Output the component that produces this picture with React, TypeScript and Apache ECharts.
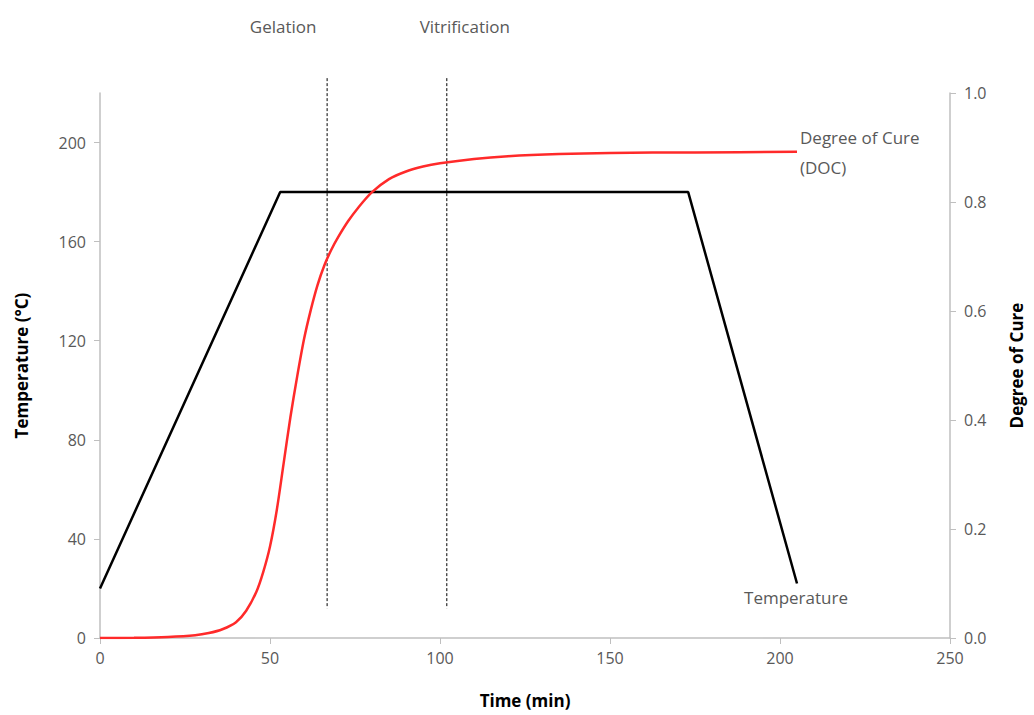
import React, { useEffect, useRef } from "react";
import * as echarts from "echarts";

const tempTime = [0, 53, 173, 205];
const tempValues = [20, 180, 180, 22];

const docTime = [0, 10, 20, 28, 32, 36, 40, 43, 46, 48, 50, 52, 54, 56, 58, 60, 62, 64, 66, 68, 70, 73, 76, 80, 85, 90, 95, 100, 110, 120, 135, 150, 175, 205];
const docValues = [0, 0.0005, 0.002, 0.005, 0.009, 0.016, 0.029, 0.05, 0.085, 0.121, 0.168, 0.235, 0.32, 0.405, 0.48, 0.548, 0.602, 0.648, 0.684, 0.712, 0.735, 0.765, 0.79, 0.818, 0.842, 0.856, 0.865, 0.871, 0.879, 0.884, 0.888, 0.89, 0.891, 0.892];

const markerTimes = [66.8, 102];
const markerNames = ["Gelation", "Vitrification"];
const markerLabelOffsets = [-44, 18];

const leftTicks = [0, 40, 80, 120, 160, 200];

const FONT = "'Open Sans', 'Liberation Sans', sans-serif";
const GRAY = "#595959";
const AXIS = "#bfbfbf";

export default function App() {
  const ref = useRef<HTMLDivElement>(null);
  useEffect(() => {
    document.body.style.margin = "0";
    document.body.style.overflow = "hidden";
    const chart = echarts.init(ref.current!, null, { renderer: "svg" });
    chart.setOption({
      animation: false,
      backgroundColor: "#ffffff",
      textStyle: { fontFamily: FONT },
      grid: { left: 100, right: 84, top: 93, bottom: 77, containLabel: false, outerBoundsMode: "none" },
      xAxis: {
        type: "value",
        min: 0,
        max: 250,
        interval: 50,
        name: "Time (min)",
        nameLocation: "middle",
        nameGap: 54,
        nameTextStyle: { fontFamily: FONT, fontSize: 17, fontWeight: "bold", color: "#000" },
        axisLine: { show: true, lineStyle: { color: AXIS, width: 1.5 } },
        axisTick: { show: true, inside: false, length: 6, lineStyle: { color: AXIS } },
        axisLabel: { fontFamily: FONT, fontSize: 16, color: GRAY, margin: 12 },
        splitLine: { show: false },
      },
      yAxis: [
        {
          type: "value",
          min: 0,
          max: 220,
          interval: 40,
          name: "Temperature (°C)",
          nameLocation: "middle",
          nameGap: 70,
          nameTextStyle: { fontFamily: FONT, fontSize: 17, fontWeight: "bold", color: "#000" },
          axisLine: { show: true, lineStyle: { color: AXIS, width: 1.5 } },
          axisTick: { show: true, length: 6, lineStyle: { color: AXIS }, customValues: leftTicks },
          axisLabel: { fontFamily: FONT, fontSize: 16, color: GRAY, margin: 14, customValues: leftTicks },
          splitLine: { show: false },
        },
        {
          type: "value",
          min: 0,
          max: 1,
          interval: 0.2,
          position: "right",
          name: "Degree of Cure",
          nameLocation: "middle",
          nameGap: 58,
          nameTextStyle: { fontFamily: FONT, fontSize: 17, fontWeight: "bold", color: "#000" },
          axisLine: { show: true, lineStyle: { color: AXIS, width: 1.5 } },
          axisTick: { show: true, length: 6, lineStyle: { color: AXIS } },
          axisLabel: { fontFamily: FONT, fontSize: 16, color: GRAY, margin: 14, formatter: (v: number) => v.toFixed(1) },
          splitLine: { show: false },
        },
      ],
      series: [
        {
          type: "line",
          name: "Temperature",
          yAxisIndex: 0,
          data: tempTime.map((t, i) => [t, tempValues[i]]),
          symbol: "none",
          lineStyle: { color: "#000000", width: 2.5 },
          clip: false,
          endLabel: {
            show: true,
            formatter: "Temperature",
            fontFamily: FONT,
            fontSize: 17,
            color: GRAY,
            align: "center",
            verticalAlign: "top",
            offset: [-9, 5],
          },
        },
        {
          type: "line",
          name: "DOC",
          yAxisIndex: 1,
          data: docTime.map((t, i) => [t, docValues[i]]),
          symbol: "none",
          smooth: 0.3,
          lineStyle: { color: "#ff2a2a", width: 2.5 },
          endLabel: {
            show: true,
            formatter: "Degree of Cure\n(DOC)",
            fontFamily: FONT,
            fontSize: 17,
            lineHeight: 30,
            color: GRAY,
            align: "left",
            verticalAlign: "middle",
            offset: [-5, 1],
          },
        },
        {
          type: "custom",
          yAxisIndex: 0,
          clip: false,
          silent: true,
          data: markerTimes.map((t, i) => [t, i]),
          renderItem: (params: any, api: any) => {
            const x = api.value(0);
            const idx = api.value(1);
            const top = api.coord([x, 226]);
            const bot = api.coord([x, 12]);
            return {
              type: "group",
              children: [
                {
                  type: "line",
                  shape: { x1: top[0], y1: top[1], x2: bot[0], y2: bot[1] },
                  style: { stroke: "#000", lineWidth: 1, lineDash: [3, 2] },
                },
                {
                  type: "text",
                  x: top[0] + markerLabelOffsets[idx],
                  y: top[1] - 52,
                  style: {
                    text: markerNames[idx],
                    fontFamily: FONT,
                    fontSize: 17,
                    fill: GRAY,
                    align: "center",
                    verticalAlign: "middle",
                  },
                },
              ],
            };
          },
        },
      ],
    });
    return () => chart.dispose();
  }, []);
  return <div ref={ref} style={{ width: 1034, height: 715, position: "absolute", left: 0, top: 0 }} />;
}
